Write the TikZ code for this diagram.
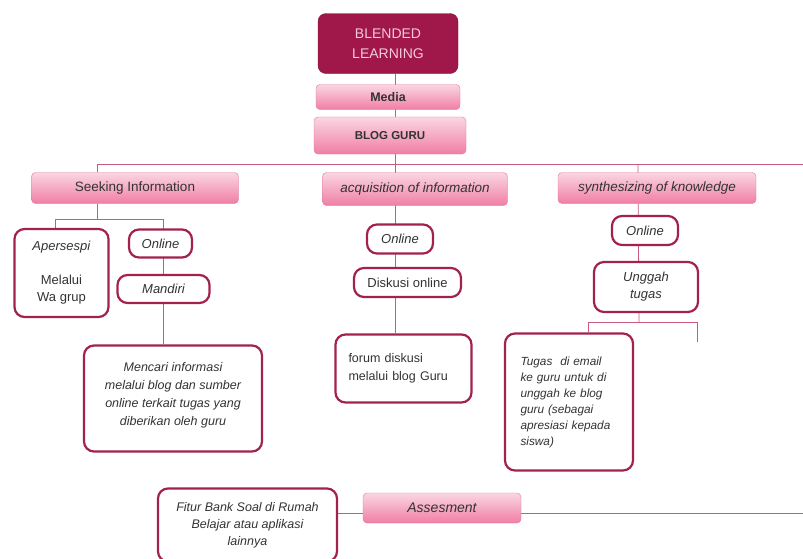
\documentclass[tikz,border=0pt]{standalone}
\usepackage{fontspec}
\setmainfont{Liberation Sans}
\usetikzlibrary{backgrounds}
\definecolor{wine}{HTML}{A0174A}
\definecolor{wineedge}{HTML}{7A1036}
\definecolor{winetext}{HTML}{F6CADA}
\definecolor{crimson}{HTML}{A3214F}
\definecolor{pinktop}{HTML}{FAD6E2}
\definecolor{pinkbot}{HTML}{F07EA4}
\definecolor{pinkedge}{HTML}{E0789C}
\definecolor{wirecol}{HTML}{C95A80}
\definecolor{ink}{HTML}{333333}
\tikzset{
  pinkbox/.style={draw=pinkedge, top color=pinktop, bottom color=pinkbot, rounded corners=4pt,
    text=ink, font=\fontsize{13.5}{16}\selectfont, inner sep=2pt},
  whitebox/.style={draw=crimson, line width=2.2pt, rounded corners=10pt, fill=white,
    text=ink, font=\fontsize{13}{17}\selectfont, align=center, inner sep=3pt},
  wire/.style={draw=wirecol, line width=0.8pt},
}

\begin{document}
\begin{tikzpicture}[x=1pt, y=-1pt]
\useasboundingbox (0,0) rectangle (803,558);
\clip (0,0) rectangle (803,558);

% top of the tree
\node[draw=wineedge, fill=wine, rounded corners=8pt, text=winetext, align=center,
  font=\fontsize{14}{20}\selectfont, minimum width=140, minimum height=60] (blended) at (388,43.5) {BLENDED\\LEARNING};
\node[pinkbox, font=\bfseries\fontsize{12.5}{14}\selectfont, minimum width=144, minimum height=25] (media) at (388,97) {Media};
\node[pinkbox, font=\bfseries\fontsize{11.5}{14}\selectfont, minimum width=152, minimum height=37] (blog) at (390,135.5) {BLOG GURU};

% three stages
\node[pinkbox, minimum width=207, minimum height=31] (seek) at (135,188) {Seeking Information};
\node[pinkbox, font=\itshape\fontsize{13.5}{16}\selectfont, minimum width=185, minimum height=33] (acq) at (415,189) {acquisition of information};
\node[pinkbox, font=\itshape\fontsize{13.5}{16}\selectfont, minimum width=198, minimum height=31] (synth) at (657,188) {synthesizing of knowledge};

% seeking information
\node[whitebox, minimum width=94, minimum height=88] (apersepsi) at (61.5,273) {\textit{Apersespi}\\[17pt]Melalui\\Wa grup};
\node[whitebox, font=\itshape\fontsize{13}{17}\selectfont, minimum width=63, minimum height=28] (online1) at (160.5,243.5) {Online};
\node[whitebox, font=\itshape\fontsize{13}{17}\selectfont, minimum width=92, minimum height=28] (mandiri) at (163.5,289) {Mandiri};
\node[whitebox, font=\itshape\fontsize{12.5}{18}\selectfont, minimum width=178, minimum height=106] (mencari) at (173,398.5)
  {Mencari informasi\\melalui blog dan sumber\\online terkait tugas yang\\diberikan oleh guru\\[-8pt]};

% acquisition of information
\node[whitebox, font=\itshape\fontsize{13}{17}\selectfont, minimum width=66, minimum height=29] (online2) at (400,239) {Online};
\node[whitebox, minimum width=107, minimum height=29] (diskusi) at (407.5,282.5) {Diskusi online};
\node[whitebox, align=left, text width=110pt, font=\fontsize{12.5}{18}\selectfont, minimum width=136, minimum height=68] (forum) at (403.5,368.5)
  {forum diskusi\\melalui blog Guru\\[22pt]};

% synthesizing of knowledge
\node[whitebox, font=\itshape\fontsize{13}{17}\selectfont, minimum width=66, minimum height=29] (online3) at (645,230.5) {Online};
\node[whitebox, font=\itshape\fontsize{13}{17}\selectfont, minimum width=104, minimum height=50] (unggah) at (646,287) {Unggah\\tugas};
\node[whitebox, align=left, text width=97pt, font=\itshape\fontsize{11.8}{16}\selectfont, minimum width=128, minimum height=137] (tugas) at (569,402)
  {Tugas\ \ di email\\ke guru untuk di\\unggah ke blog\\guru (sebagai\\apresiasi kepada\\siswa)\\[14pt]};

% assesment
\node[whitebox, font=\itshape\fontsize{12.5}{17}\selectfont, minimum width=179, minimum height=73] (fitur) at (247.5,525)
  {Fitur Bank Soal di Rumah\\Belajar atau aplikasi\\lainnya};
\node[pinkbox, font=\itshape\fontsize{14}{16}\selectfont, minimum width=158, minimum height=30] (assess) at (442,508) {Assesment};

\coordinate (trunk) at (395,164);
\coordinate (railL) at (97,164);
\coordinate (railR) at (803,164);
\coordinate (synthcol) at (638,164);
\coordinate (seekjoin) at (97,219);
\coordinate (aperjoin) at (55,219);
\coordinate (onlinejoin) at (163,219);
\coordinate (unggahjoin) at (639,322);
\coordinate (tugasjoin) at (588,322);
\coordinate (openjoin) at (697,322);
\coordinate (openend) at (697,342);
\coordinate (assessR) at (803,513);

\begin{scope}[on background layer]
\draw[wire] (trunk |- blended.south) -- (trunk |- forum.north);
\draw[wire] (railL) -- (railR);
\draw[wire] (railL) -- (railL |- seek.north);
\draw[wire] (synthcol) -- (unggahjoin);
\draw[wire] (seek.south -| seekjoin) -- (seekjoin);
\draw[wire] (aperjoin |- apersepsi.north) -- (aperjoin) -- (onlinejoin) -- (onlinejoin |- mencari.north);
\draw[wire] (tugasjoin |- tugas.north) -- (tugasjoin) -- (openjoin) -- (openend);
\draw[wire] (assessR -| fitur.east) -- (assessR);
\end{scope}
\end{tikzpicture}
\end{document}
